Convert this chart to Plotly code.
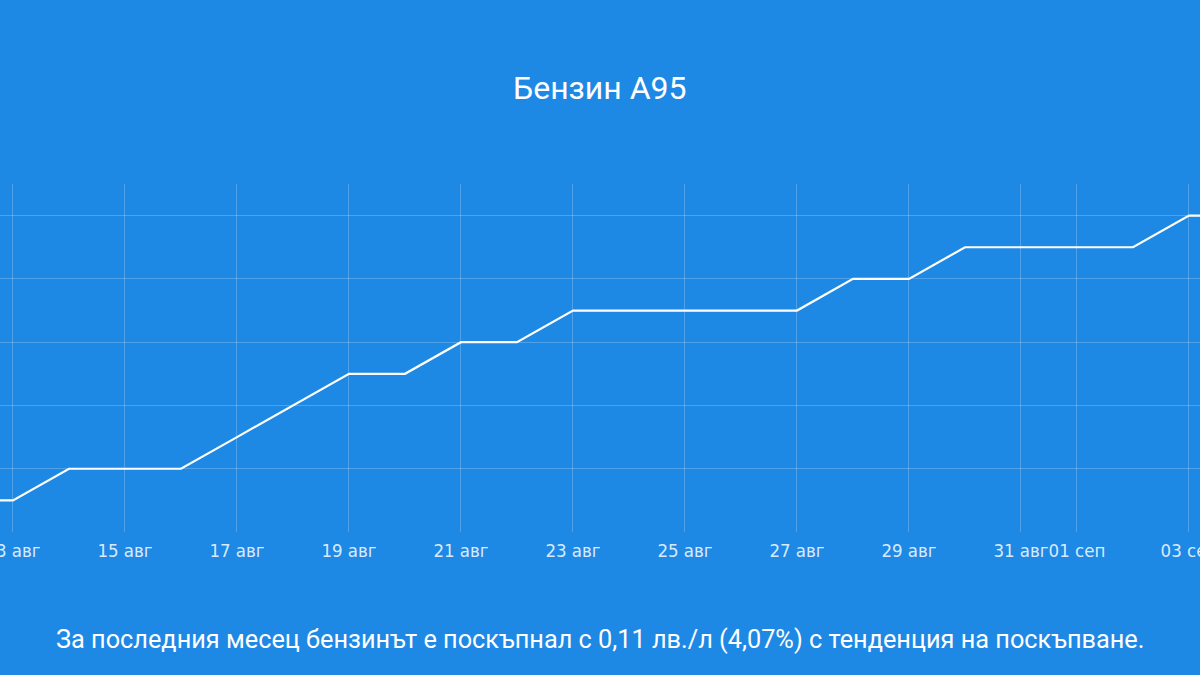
import plotly.graph_objects as go

# Data (prices in лв./л)
dates = ["2023-08-12", "2023-08-13", "2023-08-14", "2023-08-15", "2023-08-16",
         "2023-08-17", "2023-08-18", "2023-08-19", "2023-08-20", "2023-08-21",
         "2023-08-22", "2023-08-23", "2023-08-24", "2023-08-25", "2023-08-26",
         "2023-08-27", "2023-08-28", "2023-08-29", "2023-08-30", "2023-08-31",
         "2023-09-01", "2023-09-02", "2023-09-03", "2023-09-04"]
prices = [2.72, 2.72, 2.73, 2.73, 2.73,
          2.74, 2.75, 2.76, 2.76, 2.77,
          2.77, 2.78, 2.78, 2.78, 2.78,
          2.78, 2.79, 2.79, 2.80, 2.80,
          2.80, 2.80, 2.81, 2.81]

tick_dates = ["2023-08-13", "2023-08-15", "2023-08-17", "2023-08-19", "2023-08-21",
              "2023-08-23", "2023-08-25", "2023-08-27", "2023-08-29", "2023-08-31",
              "2023-09-01", "2023-09-03"]
tick_labels = ["13 авг", "15 авг", "17 авг", "19 авг", "21 авг",
               "23 авг", "25 авг", "27 авг", "29 авг", "31 авг",
               "01 сеп", "03 сеп"]

title_text = "Бензин А95"
note_text = "За последния месец бензинът е поскъпнал с 0,11 лв./л (4,07%) с тенденция на поскъпване."

BG = "#1E88E5"
GRID = "rgba(255,255,255,0.22)"

fig = go.Figure()
fig.add_trace(go.Scatter(
    x=dates, y=prices, mode="lines",
    line=dict(color="#FFFFFF", width=2.2),
    hoverinfo="skip", showlegend=False,
))

fig.update_layout(
    width=1200, height=675,
    paper_bgcolor=BG, plot_bgcolor=BG,
    margin=dict(l=0, r=0, t=184, b=143, autoexpand=False),
    showlegend=False,
    xaxis=dict(
        range=["2023-08-12 18:26", "2023-09-03 04:43"],
        tickvals=tick_dates, ticktext=tick_labels,
        showgrid=True, gridcolor=GRID, gridwidth=1,
        zeroline=False, showline=False, ticks="",
        automargin=False, tickangle=0,
        ticklabeloverflow="allow", ticklabelstandoff=5,
        tickfont=dict(family="DejaVu Sans Condensed, Roboto, sans-serif", size=18.5,
                      color="rgba(240,248,255,0.9)"),
    ),
    yaxis=dict(
        range=[2.71, 2.82],
        tick0=2.71, dtick=0.02,
        showgrid=True, gridcolor=GRID, gridwidth=1,
        zeroline=False, showline=False, showticklabels=False, ticks="",
        automargin=False,
    ),
    annotations=[
        dict(text=title_text, x=0.5, y=1.276, xref="paper", yref="paper",
             xanchor="center", yanchor="middle", showarrow=False,
             font=dict(family="Roboto", size=32, color="#FFFFFF")),
        dict(text=note_text, x=0.5, y=-0.31, xref="paper", yref="paper",
             xanchor="center", yanchor="middle", showarrow=False,
             font=dict(family="Roboto", size=25.3, color="#FFFFFF")),
    ],
)

fig.write_html("out.html")
